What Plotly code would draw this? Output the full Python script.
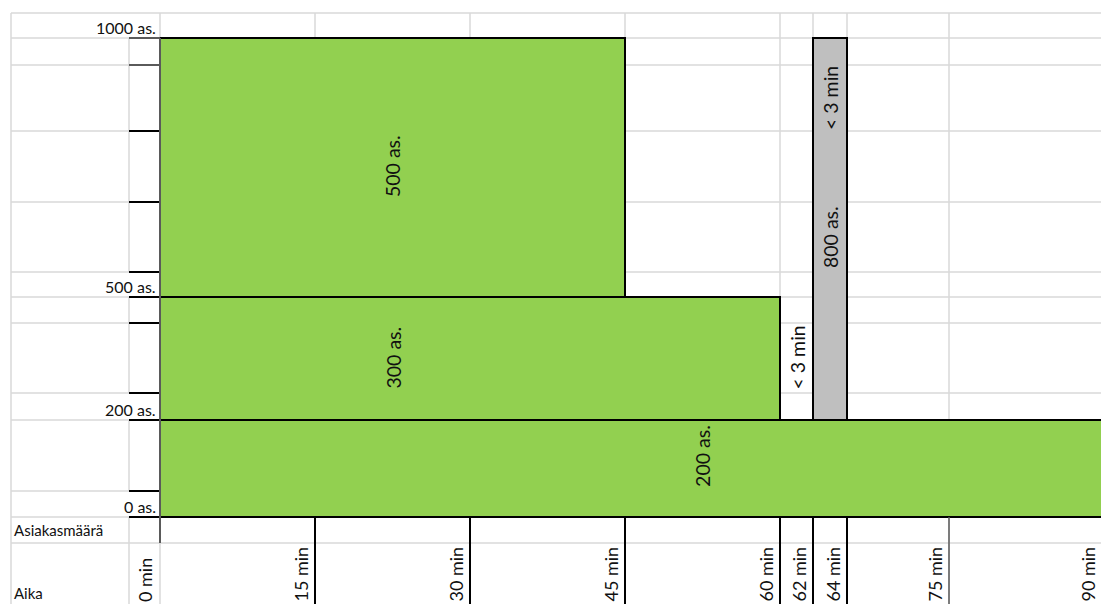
import numpy as np
import plotly.graph_objects as go

# Time breakpoints on the horizontal axis and their labels
time_minutes = [0, 15, 30, 45, 60, 62, 64, 75, 90]
time_labels = ["0 min", "15 min", "30 min", "45 min", "60 min",
               "62 min", "64 min", "75 min", "90 min"]

# Customer-count levels on the vertical axis and their labels
customer_levels = [0, 200, 500, 1000]
customer_labels = ["0 as.", "200 as.", "500 as.", "1000 as."]

# Capacity blocks: time span, base level and number of customers
block_start = [0, 0, 0, 62]
block_end = [104, 60, 45, 64]
block_base = [0, 200, 500, 200]
block_customers = [200, 300, 500, 800]
block_text = ["200 as.", "300 as.", "500 as.", "800 as."]
block_group = ["main", "main", "main", "switch"]

# Switch-over notes
note_text = ["< 3 min", "< 3 min"]
note_start = [60, 62]
note_end = [62, 64]

# Row headers
row_headers = ["Asiakasmäärä", "Aika"]

# ---- sheet geometry (screen units) ----
W, H = 1101, 604
SHEET_LEFT = 11
LABEL_COL = 129
TIME_PX = [160, 315, 470, 625, 780, 813, 847, 949, 1102]
LEVEL_PX = [517, 420, 297, 38]
ROW_LINES = [13, 38, 65, 131, 202, 272, 297, 323, 393, 420, 491, 517, 543, H]
# merged caption cells inside the blocks: sheet row and column span (minutes)
BLOCK_LABEL_ROW = [9, 7, 3, 4]
BLOCK_LABEL_COLS = [(0, 104), (0, 45), (0, 45), (62, 64)]
NOTE_LABEL_ROW = [7, 2]

FONT = "Lato"
GRID = "#d9d9d9"
GREEN = "#92d050"
GREY = "#bfbfbf"
EDGE = "#000000"
SOFT_EDGE = "#5a5a5a"
TXT = "#111111"
FS = 16          # level captions
FS_HEAD = 15     # row headers
FS_TIME = 18     # time captions
FS_BIG = 19.5    # captions inside the blocks


def x_of(t):
    """Map minutes onto the sheet's column grid (extends past the last column)."""
    t = np.asarray(t, dtype=float)
    out = np.interp(t, time_minutes, TIME_PX)
    slope = (TIME_PX[-1] - TIME_PX[-2]) / (time_minutes[-1] - time_minutes[-2])
    return np.where(t > time_minutes[-1], TIME_PX[-1] + (t - time_minutes[-1]) * slope, out)


def y_of(v):
    """Map a customer level onto the sheet's row grid."""
    return np.interp(v, customer_levels, LEVEL_PX)


def row_mid(k):
    return (ROW_LINES[k] + ROW_LINES[k + 1]) / 2


fig = go.Figure()
shapes = []
annotations = []

# ---- background cell grid ----
for yy in ROW_LINES[:-1]:
    shapes.append(dict(type="line", x0=SHEET_LEFT, x1=W, y0=yy, y1=yy,
                       line=dict(color=GRID, width=1.5), layer="below"))
for xx in [SHEET_LEFT] + TIME_PX:
    shapes.append(dict(type="line", x0=xx, x1=xx, y0=ROW_LINES[0], y1=H,
                       line=dict(color=GRID, width=1.5), layer="below"))
# label column: broken where the level captions span two columns
label_col_segments = [(38, 272), (297, 393), (420, 491), (517, H)]
for a, b in label_col_segments:
    shapes.append(dict(type="line", x0=LABEL_COL, x1=LABEL_COL, y0=a, y1=b,
                       line=dict(color=GRID, width=1.5), layer="below"))

# ---- capacity blocks as bars ----
for grp, color in [("main", GREEN), ("switch", GREY)]:
    idx = [i for i, g in enumerate(block_group) if g == grp]
    x0 = x_of([block_start[i] for i in idx])
    x1 = x_of([block_end[i] for i in idx])
    yb = y_of([block_base[i] for i in idx])
    yt = y_of([block_base[i] + block_customers[i] for i in idx])
    fig.add_trace(go.Bar(
        x=(x0 + x1) / 2, width=x1 - x0, base=yb, y=yt - yb,
        marker=dict(color=color, line=dict(color=EDGE, width=2)),
        hoverinfo="skip", showlegend=False,
    ))

# ---- border ticks in the narrow column next to the blocks ----
for yy in ROW_LINES[1:12]:
    col = SOFT_EDGE if yy < 100 else EDGE
    shapes.append(dict(type="line", x0=LABEL_COL, x1=TIME_PX[0], y0=yy, y1=yy,
                       line=dict(color=col, width=2)))
shapes.append(dict(type="line", x0=TIME_PX[0], x1=TIME_PX[0], y0=LEVEL_PX[-1], y1=LEVEL_PX[0],
                   line=dict(color=SOFT_EDGE, width=2)))

# ---- column borders in the time rows ----
shapes.append(dict(type="line", x0=TIME_PX[0], x1=TIME_PX[0], y0=LEVEL_PX[0], y1=ROW_LINES[12],
                   line=dict(color=SOFT_EDGE, width=2)))
for xx in TIME_PX[1:7]:
    shapes.append(dict(type="line", x0=xx, x1=xx, y0=LEVEL_PX[0], y1=H,
                       line=dict(color=EDGE, width=2)))
shapes.append(dict(type="line", x0=TIME_PX[7], x1=TIME_PX[7], y0=LEVEL_PX[0], y1=H,
                   line=dict(color=SOFT_EDGE, width=1.5)))

# ---- texts ----
for lab, yy in zip(customer_labels, LEVEL_PX):
    annotations.append(dict(x=158, y=yy - 11, text=lab, showarrow=False,
                            xanchor="right", yanchor="middle",
                            font=dict(family=FONT, size=FS, color=TXT)))

annotations.append(dict(x=12, y=row_mid(11), text=row_headers[0], showarrow=False,
                        xanchor="left", yanchor="middle",
                        font=dict(family=FONT, size=FS_HEAD, color=TXT)))
annotations.append(dict(x=12, y=593, text=row_headers[1], showarrow=False,
                        xanchor="left", yanchor="middle",
                        font=dict(family=FONT, size=FS_HEAD, color=TXT)))

for lab, t in zip(time_labels, time_minutes):
    annotations.append(dict(x=float(x_of(t)) - 15, y=604, text=lab, showarrow=False,
                            textangle=-90, xanchor="center", yanchor="bottom",
                            font=dict(family=FONT, size=FS_TIME, color=TXT)))

for i, lab in enumerate(block_text):
    a, b = BLOCK_LABEL_COLS[i]
    xc = float((x_of(a) + x_of(b)) / 2)
    annotations.append(dict(x=xc, y=row_mid(BLOCK_LABEL_ROW[i]), text=lab, showarrow=False,
                            textangle=-90, xanchor="center", yanchor="middle",
                            font=dict(family=FONT, size=FS_BIG, color=TXT)))

for i, lab in enumerate(note_text):
    xc = float((x_of(note_start[i]) + x_of(note_end[i])) / 2)
    annotations.append(dict(x=xc, y=row_mid(NOTE_LABEL_ROW[i]), text=lab, showarrow=False,
                            textangle=-90, xanchor="center", yanchor="middle",
                            font=dict(family=FONT, size=FS_BIG, color=TXT)))

fig.update_layout(
    width=W, height=H,
    margin=dict(l=0, r=0, t=0, b=0),
    paper_bgcolor="white", plot_bgcolor="white",
    barmode="overlay", bargap=0,
    xaxis=dict(range=[0, W], visible=False, fixedrange=True),
    yaxis=dict(range=[H, 0], visible=False, fixedrange=True),
    shapes=shapes, annotations=annotations,
    showlegend=False,
)

fig.write_html("out.html", config={"displayModeBar": False})
